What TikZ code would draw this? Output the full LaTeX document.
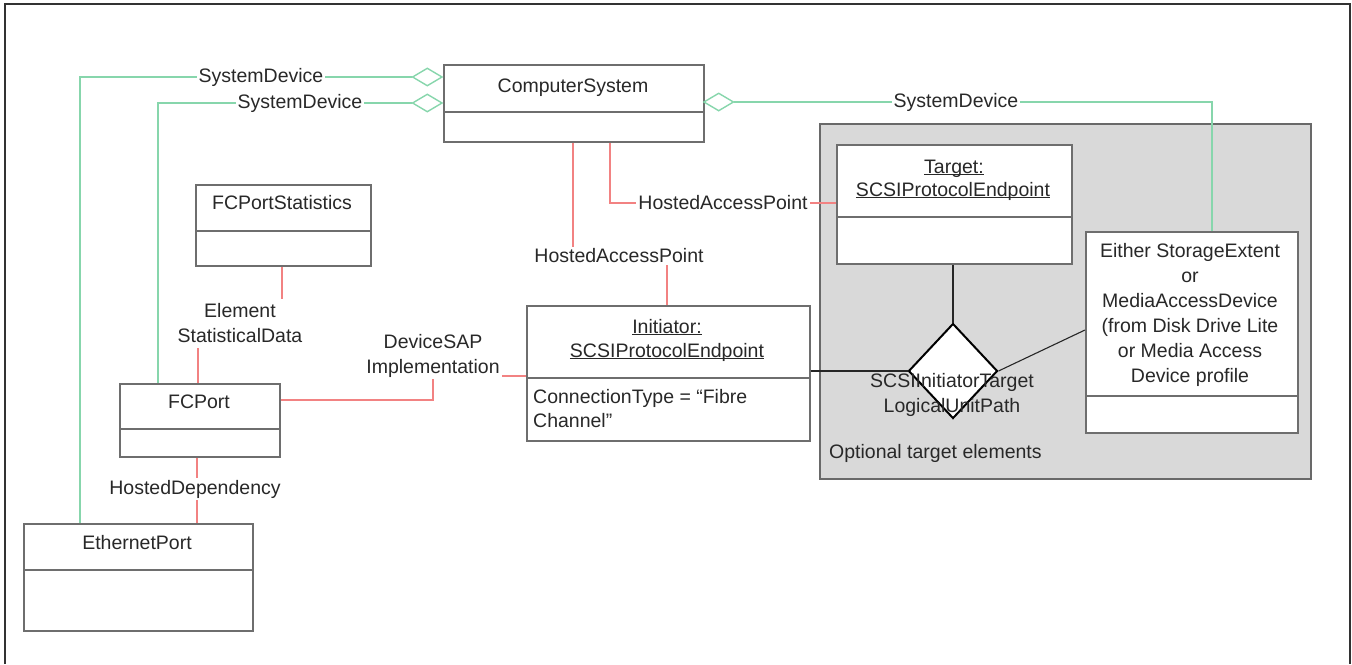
\documentclass[tikz,border=0pt]{standalone}
\usepackage{fontspec}
\setmainfont{Liberation Sans}
\usetikzlibrary{shapes.geometric}
\definecolor{lgreen}{RGB}{135,214,172}
\definecolor{lred}{RGB}{242,130,130}
\definecolor{boxgray}{RGB}{110,110,110}
\definecolor{areafill}{RGB}{217,217,217}
\definecolor{areaedge}{RGB}{105,105,105}
\definecolor{textc}{RGB}{40,40,40}
\definecolor{framec}{RGB}{50,50,50}
\newcommand{\ulx}[1]{\underline{\raisebox{0pt}[\height][0pt]{#1}}}
\begin{document}
\begin{tikzpicture}[x=1pt,y=-1pt,
  every node/.style={font=\fontsize{19.5}{25}\selectfont, text=textc},
  cls/.style={draw=boxgray, line width=1.5pt, fill=white, anchor=north west, inner sep=0pt},
  divline/.style={draw=boxgray, line width=1.5pt},
  glink/.style={draw=lgreen, line width=1.6pt},
  rlink/.style={draw=lred, line width=1.6pt},
  klink/.style={draw=black!85, line width=1.1pt},
  agg/.style={diamond, draw=lgreen, fill=white, line width=1.4pt, minimum width=30pt, minimum height=18pt, inner sep=0pt},
  lbl/.style={fill=white, inner xsep=2pt, inner ysep=2pt, align=center},
  txt/.style={anchor=base, inner sep=0pt},
]
\useasboundingbox (0,0) rectangle (1352,664);
% outer frame
\draw[line width=2pt, draw=framec] (5,664) -- (5,4) -- (1350,4) -- (1350,664);

% optional target area
\node[draw=areaedge, fill=areafill, line width=1.5pt, anchor=north west, inner sep=0pt,
      minimum width=491pt, minimum height=355pt] (opt) at (819,123) {};
\node[anchor=base west, inner sep=0pt] (optlbl) at (829,458) {Optional target elements};

% class boxes
\node[cls, minimum width=260pt, minimum height=77pt] (cs) at (443,64) {};
\draw[divline] (443,112) -- (703,112);
\node[txt] (cst) at (573,92) {ComputerSystem};

\node[cls, minimum width=175pt, minimum height=81pt] (fs) at (195,184) {};
\draw[divline] (195,231) -- (370,231);
\node[txt] (fst) at (282,209) {FCPortStatistics};

\node[cls, minimum width=160pt, minimum height=73pt] (fc) at (119,383) {};
\draw[divline] (119,429) -- (279,429);
\node[txt] (fct) at (199,408) {FCPort};

\node[cls, minimum width=229pt, minimum height=107pt] (eth) at (23,523) {};
\draw[divline] (23,570) -- (252,570);
\node[txt] (etht) at (137,549) {EthernetPort};

\node[cls, minimum width=283pt, minimum height=135pt] (ini) at (526,305) {};
\draw[divline] (526,378) -- (809,378);
\node[txt] (init1) at (667,333) {\ulx{Initiator:}};
\node[txt] (init2) at (667,357) {\ulx{SCSIProtocolEndpoint}};
\node[anchor=base west, inner sep=0pt] (inia1) at (533,403) {ConnectionType = “Fibre};
\node[anchor=base west, inner sep=0pt] (inia2) at (533,427) {Channel”};

\node[cls, minimum width=235pt, minimum height=119pt] (tg) at (836,144) {};
\draw[divline] (836,217) -- (1071,217);
\node[txt] (tgt1) at (954,173) {\ulx{Target:}};
\node[txt] (tgt2) at (953,196) {\ulx{SCSIProtocolEndpoint}};

\node[cls, minimum width=212pt, minimum height=201pt] (eb) at (1085,231) {};
\draw[divline] (1085,396) -- (1297,396);
\node[align=center, inner sep=0pt] (ebt) at (1190,314.5)
  {Either StorageExtent\\or\\MediaAccessDevice\\(from Disk Drive Lite\\or Media Access\\Device profile};

% aggregation diamonds
\node[agg, anchor=east] (d1) at (443,77) {};
\node[agg, anchor=east] (d2) at (443,103) {};
\node[agg, anchor=west] (d3) at (703,102) {};

% SystemDevice connectors (green)
\coordinate (g1) at (80,77);
\coordinate (g2) at (158,103);
\coordinate (g3) at (1212,102);
\draw[glink] (d1.west) -- (g1) -- (g1 |- eth.north);
\draw[glink] (d2.west) -- (g2) -- (g2 |- fc.north);
\draw[glink] (d3.east) -- (g3) -- (g3 |- eb.north);
\node[lbl] (sd1) at (261,77) {SystemDevice};
\node[lbl] (sd2) at (300,103) {SystemDevice};
\node[lbl] (sd3) at (956,102) {SystemDevice};

% HostedAccessPoint (upper)
\coordinate (r1) at (610,203);
\draw[rlink] (cs.south -| r1) -- (r1) -- (r1 -| tg.west);
\node[lbl] (hap1) at (723,203) {HostedAccessPoint};

% HostedAccessPoint (lower)
\coordinate (r2a) at (573,256);
\coordinate (r2b) at (667,256);
\draw[rlink] (cs.south -| r2a) -- (r2a) -- (r2b) -- (r2b |- ini.north);
\node[lbl] (hap2) at (619,256) {HostedAccessPoint};

% ElementStatisticalData
\coordinate (r3a) at (282,323);
\coordinate (r3b) at (198,323);
\draw[rlink] (fs.south -| r3a) -- (r3a) -- (r3b) -- (r3b |- fc.north);
\node[lbl, inner ysep=5pt] (esd) at (240,323.5) {Element\\StatisticalData};

% DeviceSAPImplementation
\coordinate (r4a) at (433,400);
\coordinate (r4b) at (433,376);
\draw[rlink] (fc.east |- r4a) -- (r4a) -- (r4b) -- (r4b -| ini.west);
\node[lbl] (dsap) at (433,355.5) {DeviceSAP\\Implementation};

% HostedDependency
\coordinate (r5) at (197,489);
\draw[rlink] (fc.south -| r5) -- (r5 |- eth.north);
\node[lbl] (hd) at (195,489) {HostedDependency};

% SCSIInitiatorTargetLogicalUnitPath
\node[diamond, draw=black, fill=white, line width=2pt, minimum width=89pt, minimum height=95pt, inner sep=0pt] (bd) at (953,371) {};
\coordinate (ebl) at (1085,330);
\draw[klink] (tg.south -| bd.north) -- (bd.north);
\draw[klink] (bd.west -| ini.east) -- (bd.west);
\draw[klink] (bd.east) -- (ebl);
\node[align=center, inner sep=0pt] (itl) at (952,394.5) {SCSIInitiatorTarget\\LogicalUnitPath};
\end{tikzpicture}
\end{document}
